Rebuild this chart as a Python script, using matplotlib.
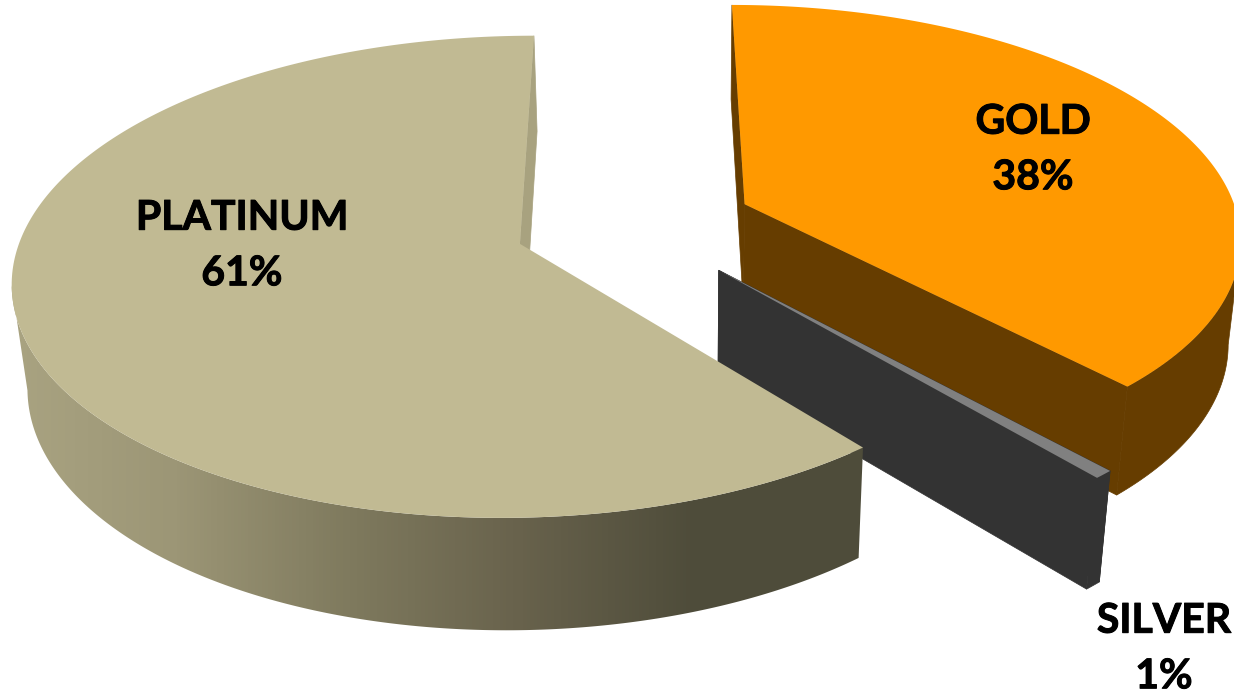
import numpy as np
import matplotlib
matplotlib.use('Agg')
import matplotlib.pyplot as plt
import matplotlib.patheffects as pe
from matplotlib.colors import LinearSegmentedColormap
from matplotlib.patches import Polygon

labels = ['GOLD', 'SILVER', 'PLATINUM']
values = [38, 1, 61]

top_colors = ['#FF9900', '#808080', '#C1BA93']
wall_colors = ['#663D00', '#333333', '#A8A27F']
label_pos = [(1033, 150), (1164, 649), (242, 246)]
explode = [0.245, 0.255, 0.24]
# silver is drawn a bit thinner than its share, as in the reference
sweep_scale = [1, 0.55, 1]

# projection of the 3d pie, fitted by eye to the perspective of the reference
XC, YH, H = 637, -1487, 1731
K, M = 0.1367, 0.02326
DX, DZ = 1.23, 146.3
CENTER = (-4, -0.082)
RX = 501
DEPTH = 1.0


def project(x, y, z=0.0):
    w = 1 - K * y + M * z
    return np.column_stack([XC + (x + DX * z) / w, YH + (H + DZ * z) / w])


def rim(t0, t1, cx, cy, z=0.0):
    t = np.radians(np.linspace(t0, t1, 300))
    return project(cx + RX * np.sin(t), cy - np.cos(t), z * np.ones_like(t))


def apex(cx, cy, z=0.0):
    return project(np.array([cx]), np.array([cy]), np.array([z]))


def wall(t, cx, cy):
    return np.vstack([apex(cx, cy), apex(cx, cy, DEPTH), rim(t, t, cx, cy, DEPTH)[:1], rim(t, t, cx, cy)[:1]])


def band(t0, t1, cx, cy):
    return np.vstack([rim(t0, t1, cx, cy), rim(t0, t1, cx, cy, DEPTH)[::-1]])


fig = plt.figure(figsize=(12.34, 6.94), dpi=100)
ax = fig.add_axes([0, 0, 1, 1])

shade = LinearSegmentedColormap.from_list('shade', ['#AAA482', '#9C9676', '#7F7A5E', '#68624C', '#4E4C3A', '#4E4C3A'])
angles = np.cumsum([0] + values) * 3.6

# gold, then silver, then platinum in front
for i, name in enumerate(labels):
    mid_deg = (angles[i] + angles[i + 1]) / 2
    half = (angles[i + 1] - angles[i]) / 2 * sweep_scale[i]
    t0, t1 = mid_deg - half, mid_deg + half
    mid = np.radians(mid_deg)
    cx = CENTER[0] + explode[i] * RX * np.sin(mid)
    cy = CENTER[1] - explode[i] * np.cos(mid)
    z = 1 + i

    top = np.vstack([apex(cx, cy), rim(t0, t1, cx, cy)])
    ts = np.linspace(t0, t1, 300)
    edge_x = rim(t0, t1, cx, cy)[:, 0]
    ax.add_patch(Polygon(wall(t1, cx, cy), fc=wall_colors[i], ec=wall_colors[i], lw=0.5, zorder=z))
    if name == 'PLATINUM':
        # only the front part of the rim shows, it gets darker to the right
        patch = Polygon(band(t0, ts[np.argmin(edge_x)], cx, cy), fc='none', ec='none', zorder=z)
        ax.add_patch(patch)
        im = ax.imshow(np.linspace(0, 1, 256).reshape(1, -1), cmap=shade, extent=(0, 870, 694, 0),
                       aspect='auto', zorder=z)
        im.set_clip_path(patch)
    else:
        ax.add_patch(Polygon(wall(t0, cx, cy), fc=wall_colors[i], ec=wall_colors[i], lw=0.5, zorder=z))
        front = band(ts[np.argmax(edge_x)], t1, cx, cy)
        ax.add_patch(Polygon(front, fc=wall_colors[i], ec=wall_colors[i], lw=0.5, zorder=z))
    ax.add_patch(Polygon(top, fc=top_colors[i], ec='none', zorder=z + 0.5))

for name, val, pos in zip(labels, values, label_pos):
    ax.text(pos[0], pos[1], f'{name}\n{val}%', ha='center', va='center', fontsize=29.5,
            fontfamily='Lato', fontweight='bold', color='black', linespacing=1.62, zorder=10,
            path_effects=[pe.withStroke(linewidth=0.7, foreground='black')])

ax.set_xlim(0, 1234)
ax.set_ylim(694, 0)
ax.axis('off')

fig.savefig('out.png', dpi=100)
